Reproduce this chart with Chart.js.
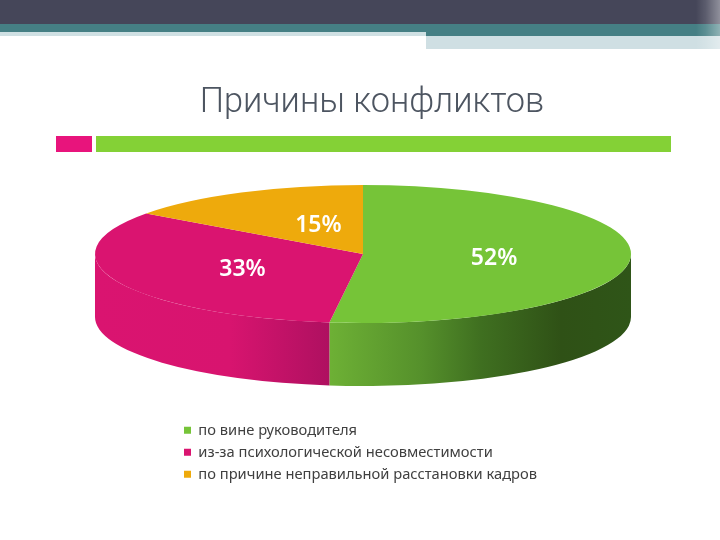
<!DOCTYPE html>
<html lang="ru">
<head>
<meta charset="utf-8">
<title>Причины конфликтов</title>
<script src="https://cdn.jsdelivr.net/npm/chart.js@4/dist/chart.umd.min.js"></script>
<style>
    html, body { margin: 0; padding: 0; background: #fff; }
    #stage { position: relative; width: 720px; height: 540px; overflow: hidden; }
    #stage div { position: absolute; }
    #chart { position: absolute; left: 0; top: 0; }
</style>
</head>
<body>
<div id="stage">
    <!-- slide decoration -->
    <div style="left:0;top:0;width:720px;height:24px;background:#454659"></div>
    <div style="left:0;top:24px;width:720px;height:8px;background:#457f84"></div>
    <div style="left:426px;top:32px;width:294px;height:4px;background:#457f84"></div>
    <div style="left:0;top:32px;width:426px;height:4px;background:#cfe0e3"></div>
    <div style="left:426px;top:36px;width:294px;height:13px;background:#cfdfe3"></div>
    <div style="left:696px;top:0;width:24px;height:49px;background:linear-gradient(90deg,rgba(255,255,255,0),rgba(255,255,255,.12) 40%,rgba(255,255,255,.4))"></div>
    <div style="left:56px;top:136px;width:36px;height:16px;background:#e8147c"></div>
    <div style="left:96px;top:136px;width:575px;height:16px;background:#84d136"></div>
    <canvas id="chart" width="720" height="540"></canvas>
</div>

<script>
const titleText = 'Причины конфликтов';
const categories = [
    'по вине руководителя',
    'из-за психологической несовместимости',
    'по причине неправильной расстановки кадров'
];
const shares = [52, 33, 15];
const sliceColors = ['#76c438', '#da1470', '#eeaa0c'];

// the pie is flattened into an ellipse with this centre and height
const PIE_CX = 363;
const PIE_CY = 254;
const PIE_RX = 268;
const PIE_RY = 69;
const PIE_DEPTH = 63;

// side wall shading, from left to right
function wallGradient(ctx, index) {
    const g = ctx.createLinearGradient(PIE_CX - PIE_RX, 0, PIE_CX + PIE_RX, 0);
    if (index === 0) {
        g.addColorStop(0.44, '#6db035');
        g.addColorStop(0.61, '#55902b');
        g.addColorStop(0.72, '#3f6f20');
        g.addColorStop(0.87, '#2f5116');
        g.addColorStop(1, '#2f5518');
    } else {
        g.addColorStop(0, '#da1470');
        g.addColorStop(0.25, '#d8146f');
        g.addColorStop(0.44, '#ae1060');
    }
    return g;
}

// draws the visible wall below every front slice, then flattens the top
const flatPie = {
    id: 'flatPie',
    beforeDatasetsDraw(chart) {
        const ctx = chart.ctx;
        const arcs = chart.getDatasetMeta(0).data;
        arcs.forEach((arc, i) => {
            const from = Math.max(arc.startAngle, 0);
            const to = Math.min(arc.endAngle, Math.PI);
            if (to <= from) return;
            ctx.save();
            ctx.beginPath();
            ctx.ellipse(PIE_CX, PIE_CY, PIE_RX, PIE_RY, 0, from, to);
            ctx.ellipse(PIE_CX, PIE_CY + PIE_DEPTH, PIE_RX, PIE_RY, 0, to, from, true);
            ctx.closePath();
            ctx.fillStyle = wallGradient(ctx, i);
            ctx.fill();
            ctx.restore();
        });
        const first = arcs[0];
        ctx.save();
        ctx.translate(PIE_CX, PIE_CY);
        ctx.scale(1, PIE_RY / PIE_RX);
        ctx.translate(-first.x, -first.y);
    },
    afterDatasetsDraw(chart) {
        const ctx = chart.ctx;
        ctx.restore();

        // percent labels on the top face
        const arcs = chart.getDatasetMeta(0).data;
        ctx.save();
        ctx.font = '600 23px "Noto Sans"';
        ctx.fillStyle = '#ffffff';
        ctx.textAlign = 'center';
        ctx.textBaseline = 'middle';
        arcs.forEach((arc, i) => {
            const mid = (arc.startAngle + arc.endAngle) / 2;
            // the narrow slice keeps its label closer to the centre line
            const nudge = i === 2 ? 15 : 0;
            const x = PIE_CX + Math.cos(mid) * PIE_RX * 0.49 + nudge;
            const y = PIE_CY + Math.sin(mid) * PIE_RY * 0.49 + 2;
            ctx.fillText(shares[i] + '%', x, y);
        });
        ctx.restore();
    }
};

new Chart(document.getElementById('chart'), {
    type: 'pie',
    data: {
        labels: categories,
        datasets: [{
            data: shares,
            backgroundColor: sliceColors,
            borderWidth: 0,
            clip: false
        }]
    },
    options: {
        responsive: false,
        animation: false,
        radius: PIE_RX,
        layout: { padding: { left: 176.7, right: 152.7, top: 0, bottom: 48.3 } },
        plugins: {
            tooltip: { enabled: false },
            title: {
                display: true,
                text: titleText,
                color: '#4d5561',
                font: { family: 'Roboto', size: 34.3, weight: '300' },
                padding: { top: 83, bottom: 0 }
            },
            legend: {
                position: 'bottom',
                align: 'start',
                maxWidth: 390,
                labels: {
                    boxWidth: 7,
                    boxHeight: 7,
                    padding: 7.3,
                    color: '#404040',
                    font: { family: 'Noto Sans', size: 14.7 }
                }
            }
        }
    },
    plugins: [flatPie]
});
</script>
</body>
</html>
